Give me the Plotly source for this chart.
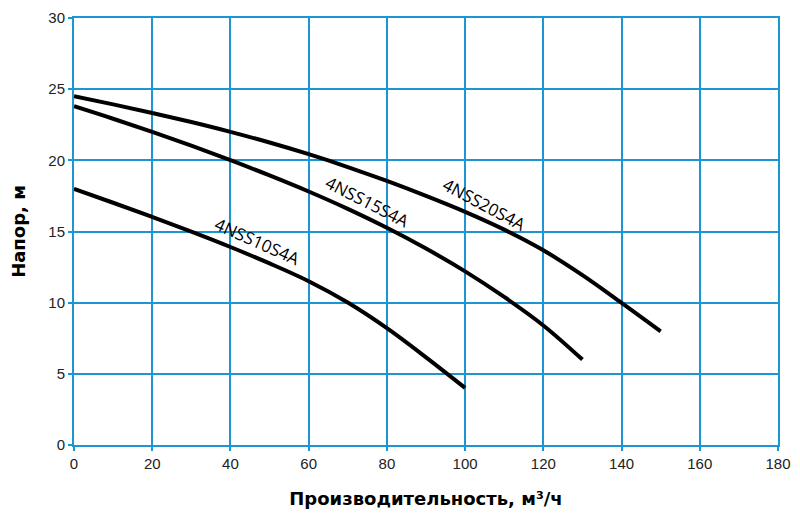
import plotly.graph_objects as go

# Pump curves: flow (m3/h) vs head (m)
q_10 = [0, 10, 20, 30, 40, 50, 60, 70, 80, 90, 100]
h_10 = [18.0, 17.02, 16.02, 14.99, 13.91, 12.76, 11.51, 10.01, 8.21, 6.16, 4.01]

q_15 = [0, 10, 20, 30, 40, 50, 60, 70, 80, 90, 100, 110, 120, 130]
h_15 = [23.8, 22.92, 22.0, 21.03, 20.01, 18.94, 17.81, 16.59, 15.26, 13.8, 12.2, 10.4, 8.4, 6.0]

q_20 = [0, 10, 20, 30, 40, 50, 60, 70, 80, 90, 100, 110, 120, 130, 140, 150]
h_20 = [24.5, 23.93, 23.33, 22.69, 22.0, 21.25, 20.43, 19.53, 18.55, 17.5, 16.38, 15.13,
        13.68, 11.93, 9.98, 7.98]

names = ["4NSS10S4A", "4NSS15S4A", "4NSS20S4A"]
# label anchor (x, y) and angle
label_x = [47.0, 75.0, 105.0]
label_y = [14.3, 17.1, 16.9]
label_angle = [24, 27, 28]

GRID = "#1b95d3"

fig = go.Figure()
for q, h in [(q_10, h_10), (q_15, h_15), (q_20, h_20)]:
    fig.add_trace(go.Scatter(
        x=q, y=h, mode="lines",
        line=dict(color="black", width=4, shape="spline", smoothing=1.0),
        showlegend=False, hoverinfo="skip",
    ))

for name, lx, ly, ang in zip(names, label_x, label_y, label_angle):
    fig.add_annotation(
        x=lx, y=ly, text=name, showarrow=False, textangle=ang,
        font=dict(family="Open Sans", size=17, color="black"),
    )

axis_common = dict(
    showgrid=True, gridcolor=GRID, gridwidth=2,
    showline=True, linecolor=GRID, linewidth=2, mirror=True,
    zeroline=False, automargin=False,
    ticks="outside", ticklen=4, tickwidth=2, tickcolor=GRID,
    tickfont=dict(family="Liberation Sans", size=15, color="#222"),
)

fig.update_xaxes(
    range=[0, 180], dtick=20, tick0=0,
    title=dict(text="Производительность, м³/ч",
               font=dict(family="DejaVu Sans", size=18, color="black", weight="bold"),
               standoff=21),
    **axis_common,
)
fig.update_yaxes(
    range=[0, 30], dtick=5, tick0=0,
    title=dict(text="Напор, м",
               font=dict(family="DejaVu Sans", size=18, color="black", weight="bold"),
               standoff=20),
    **axis_common,
)

# page body has an 8px margin, so the figure is a bit smaller than the window
fig.update_layout(
    width=792, height=515,
    margin=dict(l=66, r=22, t=10, b=78),
    plot_bgcolor="white", paper_bgcolor="white",
)

fig.write_html("out.html")
